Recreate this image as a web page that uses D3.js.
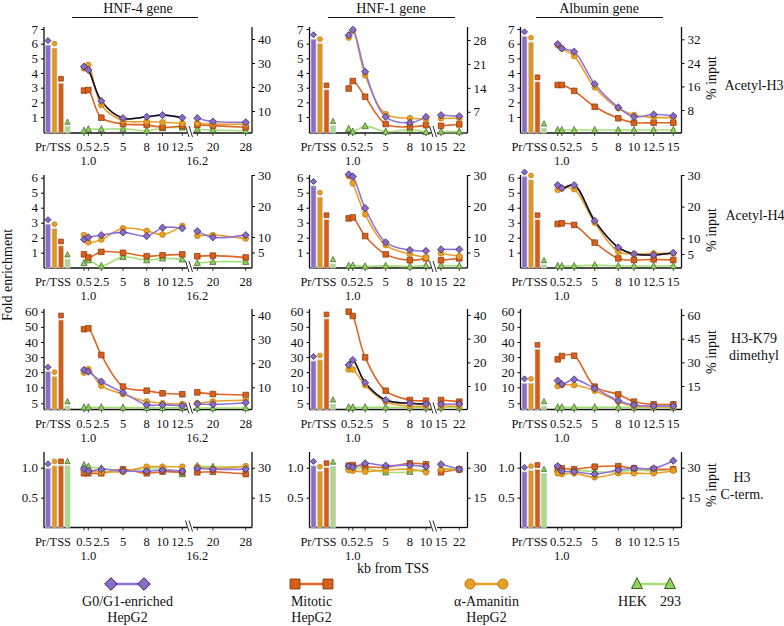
<!DOCTYPE html>
<html><head><meta charset="utf-8">
<script src="https://cdn.jsdelivr.net/npm/d3@7/dist/d3.min.js"></script>
<style>
body{margin:0;background:#fff;}
text{font-family:"Liberation Serif","Times New Roman",Times,serif;fill:#111;}
</style></head><body>
<svg id="chart" width="784" height="626" xmlns="http://www.w3.org/2000/svg"></svg>
<script>
// ---------- categories / labels ----------
const genes = ["HNF-4 gene", "HNF-1 gene", "Albumin gene"];
const modifications = [["Acetyl-H3"], ["Acetyl-H4"], ["H3-K79", "dimethyl"], ["H3", "C-term."]];
const legendLabels = [["G0/G1-enriched", "HepG2"], ["Mitotic", "HepG2"], ["α-Amanitin", "HepG2"], ["HEK", "293"]];
const kbHNF4 = [0.5, 1.0, 2.5, 5, 8, 10, 12.5, 16.2, 20, 28];
const kbHNF1 = [0.5, 1.0, 2.5, 5, 8, 10, 15, 22];
const kbAlb  = [0.5, 1.0, 2.5, 5, 8, 10, 12.5, 15];
const xTicksHNF4 = ["0.5", "2.5", "5", "8", "10", "12.5", "20", "28"], xTicks2HNF4 = ["1.0", "16.2"];
const xTicksHNF1 = ["0.5", "2.5", "5", "8", "10", "15", "22"], xTicks2HNF1 = ["1.0"];
const xTicksAlb  = ["0.5", "2.5", "5", "8", "10", "12.5", "15"], xTicks2Alb = ["1.0"];
const leftTicksH3 = [1, 2, 3, 4, 5, 6, 7];
const leftTicksH4 = [1, 2, 3, 4, 5, 6];
const leftTicksK79 = [5, 10, 20, 30, 40, 50, 60];
const leftTicksCt = [0.5, 1.0];
const rightTicksH3 = [[10, 20, 30, 40], [7, 14, 21, 28], [8, 16, 24, 32]];
const rightTicksH4 = [[5, 10, 20, 30], [5, 10, 20, 30], [5, 10, 20, 30]];
const rightTicksK79 = [[10, 20, 30, 40], [10, 20, 30, 40], [15, 30, 45, 60]];
const rightTicksCt = [[15, 30], [15, 30], [15, 30]];

// ---------- promoter bars (fold enrichment): G0/G1, α-Amanitin, Mitotic, HEK ----------
const barsH3_HNF4 = [5.9, 5.7, 3.3, 0.35];
const barsH3_HNF1 = [6.3, 6.0, 2.85, 0.4];
const barsH3_Alb  = [6.5, 6.1, 3.4, 0.23];
const barsH4_HNF4 = [2.9, 2.6, 1.45, 0.56];
const barsH4_HNF1 = [5.45, 4.7, 3.2, 0.25];
const barsH4_Alb  = [6.07, 5.85, 3.2, 0.18];
const barsK79_HNF4 = [20.3, 17.0, 54.5, 2.75];
const barsK79_HNF1 = [27.4, 28.1, 55.2, 4.2];
const barsK79_Alb  = [12.6, 12.6, 35.1, 2.75];
const barsCt_HNF4 = [0.99, 1.03, 1.03, 1.03];
const barsCt_HNF1 = [1.03, 0.94, 1.0, 1.02];
const barsCt_Alb  = [0.93, 0.95, 0.97, 0.9];

// ---------- profiles (% input) ----------
const h3_HNF4_g0  = [28.5, 27.1, 14.2, 7.0, 7.6, 8.3, 7.2, 7.0, 5.6, 5.3];
const h3_HNF4_mit = [18.5, 18.75, 7.2, 4.6, 4.2, 3.2, 3.75, 4.2, 3.9, 3.2];
const h3_HNF4_ama = [27.8, 29.2, 12.5, 6.0, 5.6, 5.3, 4.9, 4.9, 4.6, 4.5];
const h3_HNF4_hek = [1.8, 2.4, 2.4, 2.6, 1.8, 2.9, 3.1, 2.4, 2.1, 1.8];
const h3_HNF1_g0  = [29.4, 31.0, 18.7, 5.5, 3.8, 5.5, 6.0, 5.7];
const h3_HNF1_mit = [13.8, 16.0, 11.4, 3.4, 2.6, 3.1, 2.9, 3.3];
const h3_HNF1_ama = [28.7, 30.8, 17.7, 6.3, 5.1, 4.8, 5.1, 5.1];
const h3_HNF1_hek = [2.0, 1.2, 2.8, 1.2, 1.7, 1.1, 1.2, 1.2];
const h3_Alb_g0  = [30.4, 28.9, 27.8, 16.8, 8.9, 5.7, 6.5, 6.0];
const h3_Alb_mit = [16.5, 16.5, 14.5, 9.1, 5.2, 3.7, 3.7, 3.7];
const h3_Alb_ama = [30.0, 28.9, 26.3, 15.7, 8.6, 6.3, 5.5, 5.5];
const h3_Alb_hek = [1.2, 1.2, 1.2, 1.2, 1.2, 1.2, 1.2, 1.2];

const h4_HNF4_g0  = [9.2, 9.9, 10.6, 11.5, 10.3, 13.0, 12.8, 11.9, 9.9, 10.6];
const h4_HNF4_mit = [4.4, 3.4, 5.2, 4.9, 3.8, 4.1, 4.4, 3.8, 4.0, 3.4];
const h4_HNF4_ama = [10.6, 8.3, 9.2, 12.8, 12.0, 10.8, 13.6, 10.4, 10.6, 9.5];
const h4_HNF4_hek = [1.6, 2.5, 0.6, 3.6, 2.5, 3.1, 2.8, 1.6, 2.0, 2.0];
const h4_HNF1_g0  = [30.2, 29.5, 19.3, 8.3, 5.8, 5.5, 6.0, 6.0];
const h4_HNF1_mit = [16.0, 16.3, 10.3, 4.4, 2.5, 3.1, 2.5, 3.1];
const h4_HNF1_ama = [29.7, 27.3, 17.3, 7.4, 4.5, 3.4, 4.7, 3.8];
const h4_HNF1_hek = [0.7, 0.8, 0.5, 0.7, 0.5, 0.8, 0.8, 0.7];
const h4_Alb_g0  = [26.8, 25.8, 26.8, 15.5, 7.1, 5.0, 4.7, 5.4];
const h4_Alb_mit = [14.5, 14.7, 14.2, 8.6, 3.6, 3.1, 3.3, 3.1];
const h4_Alb_ama = [25.3, 25.8, 25.5, 14.9, 5.7, 5.0, 5.2, 5.2];
const h4_Alb_hek = [1.2, 1.2, 1.2, 1.5, 1.2, 1.2, 1.2, 1.2];

const k79_HNF4_g0  = [17.2, 16.5, 12.4, 7.8, 2.7, 2.7, 2.3, 3.1, 2.9, 3.6];
const k79_HNF4_mit = [34.1, 34.5, 23.4, 10.3, 8.6, 7.5, 7.1, 7.9, 7.2, 6.8];
const k79_HNF4_ama = [16.1, 17.5, 10.6, 7.2, 4.1, 3.4, 3.1, 3.4, 4.1, 4.7];
const k79_HNF4_hek = [1.7, 1.7, 1.7, 1.6, 1.5, 1.5, 1.5, 1.4, 1.4, 1.4];
const k79_HNF1_g0  = [18.9, 21.0, 11.4, 4.1, 2.7, 2.4, 2.3, 2.4];
const k79_HNF1_mit = [41.4, 39.6, 22.1, 8.0, 4.1, 3.8, 4.1, 3.4];
const k79_HNF1_ama = [17.0, 17.0, 10.4, 3.4, 1.5, 1.5, 1.5, 1.5];
const k79_HNF1_hek = [1.0, 1.0, 1.0, 1.0, 1.0, 1.0, 1.0, 1.0];
const k79_Alb_g0  = [18.4, 16.1, 19.2, 13.5, 5.7, 3.0, 2.3, 2.3];
const k79_Alb_mit = [31.9, 34.0, 34.2, 14.6, 9.7, 5.1, 3.4, 3.4];
const k79_Alb_ama = [15.0, 15.6, 15.6, 12.0, 5.1, 2.3, 1.9, 1.9];
const k79_Alb_hek = [1.5, 1.5, 1.5, 1.5, 1.5, 1.5, 1.5, 1.5];

const ct_HNF4_g0  = [29.3, 28.3, 29.2, 28.3, 28.3, 28.8, 28.3, 29.7, 29.2, 29.3];
const ct_HNF4_mit = [27.2, 27.2, 27.2, 29.2, 27.2, 28.0, 27.7, 27.7, 28.0, 26.8];
const ct_HNF4_ama = [28.5, 28.0, 28.0, 28.0, 30.5, 30.5, 30.5, 30.5, 29.7, 30.8];
const ct_HNF4_hek = [31.3, 30.5, 29.7, 28.5, 29.7, 29.7, 26.8, 30.8, 30.5, 30.5];
const ct_HNF1_g0  = [30.8, 30.2, 32.2, 31.0, 31.3, 30.5, 31.7, 29.2];
const ct_HNF1_mit = [31.0, 31.3, 30.5, 30.2, 32.2, 31.7, 27.7, 29.2];
const ct_HNF1_ama = [28.8, 28.5, 28.0, 28.8, 29.2, 27.7, 29.2, 28.8];
const ct_HNF1_hek = [30.5, 29.7, 29.7, 27.7, 28.0, 29.2, 29.7, 29.2];
const ct_Alb_g0  = [30.8, 28.3, 28.0, 26.8, 28.8, 29.7, 29.7, 33.5];
const ct_Alb_mit = [30.0, 29.7, 29.2, 30.5, 30.8, 29.7, 29.2, 29.2];
const ct_Alb_ama = [27.2, 26.8, 27.2, 25.2, 27.2, 27.2, 27.2, 28.5];
const ct_Alb_hek = [29.2, 28.0, 28.8, 28.0, 28.0, 28.8, 28.5, 29.2];

// ---------- tables built from the arrays ----------
const kbByCol = [kbHNF4, kbHNF1, kbAlb];
const xTicksByCol = [[xTicksHNF4, xTicks2HNF4], [xTicksHNF1, xTicks2HNF1], [xTicksAlb, xTicks2Alb]];
const leftTicksByRow = [leftTicksH3, leftTicksH4, leftTicksK79, leftTicksCt];
const rightTicksByRow = [rightTicksH3, rightTicksH4, rightTicksK79, rightTicksCt];
const barsTable = [
  [barsH3_HNF4, barsH3_HNF1, barsH3_Alb],
  [barsH4_HNF4, barsH4_HNF1, barsH4_Alb],
  [barsK79_HNF4, barsK79_HNF1, barsK79_Alb],
  [barsCt_HNF4, barsCt_HNF1, barsCt_Alb]
];
const lineTable = [
  [{g0:h3_HNF4_g0,mit:h3_HNF4_mit,ama:h3_HNF4_ama,hek:h3_HNF4_hek},{g0:h3_HNF1_g0,mit:h3_HNF1_mit,ama:h3_HNF1_ama,hek:h3_HNF1_hek},{g0:h3_Alb_g0,mit:h3_Alb_mit,ama:h3_Alb_ama,hek:h3_Alb_hek}],
  [{g0:h4_HNF4_g0,mit:h4_HNF4_mit,ama:h4_HNF4_ama,hek:h4_HNF4_hek},{g0:h4_HNF1_g0,mit:h4_HNF1_mit,ama:h4_HNF1_ama,hek:h4_HNF1_hek},{g0:h4_Alb_g0,mit:h4_Alb_mit,ama:h4_Alb_ama,hek:h4_Alb_hek}],
  [{g0:k79_HNF4_g0,mit:k79_HNF4_mit,ama:k79_HNF4_ama,hek:k79_HNF4_hek},{g0:k79_HNF1_g0,mit:k79_HNF1_mit,ama:k79_HNF1_ama,hek:k79_HNF1_hek},{g0:k79_Alb_g0,mit:k79_Alb_mit,ama:k79_Alb_ama,hek:k79_Alb_hek}],
  [{g0:ct_HNF4_g0,mit:ct_HNF4_mit,ama:ct_HNF4_ama,hek:ct_HNF4_hek},{g0:ct_HNF1_g0,mit:ct_HNF1_mit,ama:ct_HNF1_ama,hek:ct_HNF1_hek},{g0:ct_Alb_g0,mit:ct_Alb_mit,ama:ct_Alb_ama,hek:ct_Alb_hek}]
];

// ---------- layout & style ----------
const colLayout = [
  {axL: 44, axR: 252, xd: [0.5, 5, 12.5, 16.2, 28], xr: [84, 123, 182.3, 197.3, 245.7], brk: 190, brkIdx: 7, title: [72, 198], tx: 138},
  {axL: 309.5, axR: 467.5, xd: [0.5, 5, 10, 15, 22], xr: [348.7, 385.7, 426, 441, 459.3], brk: 434, brkIdx: 6, title: [328, 455], tx: 391},
  {axL: 520.5, axR: 681.5, xd: [0.5, 5, 15], xr: [557.7, 594.7, 673.3], brk: null, brkIdx: null, title: [536, 663], tx: 599}
];
const rowLayout = [
  {bottom: 133, top: 27, ld: [0, 7], lr: [131.7, 29], rd: [[0, 40], [0, 28], [0, 32]], rr: [[135, 39], [135.7, 40], [133.6, 39.3]], fmt: d3.format("d"),
   lab: {x: 754, y: [90]}, pct: 78},
  {bottom: 268, top: 175, ld: [0, 6], lr: [267.7, 177.7], rd: [[0, 30], [0, 30], [0, 30]], rr: [[268, 175], [268, 175], [269.8, 175]], fmt: d3.format("d"),
   lab: {x: 755, y: [220]}, pct: 230},
  {bottom: 409.5, top: 309, ld: [0, 5, 10, 60], lr: [409.5, 403.3, 387.3, 311.7], rd: [[0, 40], [0, 40], [0, 60]], rr: [[411.4, 315], [409.7, 315], [409.7, 315]], fmt: d3.format("d"),
   lab: {x: 754, y: [343, 360]}, pct: 352},
  {bottom: 527.5, top: 452, ld: [0, 1], lr: [527.7, 467.7], rd: [[0, 30], [0, 30], [0, 30]], rr: [[527.7, 467.7], [527.7, 467.7], [527.7, 467.7]], fmt: d3.format(".1f"),
   lab: {x: 742, y: [482, 499]}, pct: 485}
];
const blackOverlay = [{r: 0, c: 0, seg: 0}, {r: 1, c: 2, seg: 0}, {r: 2, c: 1, seg: 0}];
const style = {
  g0:  {fill: "#8a6cc8", stroke: "#2b1d4d", line: "#8f74dc", bar: "#8b6dc8"},
  mit: {fill: "#d8601a", stroke: "#86360c", line: "#de6522", bar: "#d45c16"},
  ama: {fill: "#e6a024", stroke: "#c27e14", line: "#e99f2c", bar: "#e0961e"},
  hek: {fill: "#94cf62", stroke: "#31601e", line: "#a6dd76", bar: "#a8db8c"}
};
const barOrder = ["g0", "ama", "mit", "hek"];
const drawOrder = ["hek", "mit", "ama", "g0"];
const tickFont = 12.5;

function markerPath(key, s) {
  if (key === "g0") { const r = 3.6 * s; return `M0,${-r}L${r},0L0,${r}L${-r},0Z`; }
  if (key === "mit") { const h = 2.8 * s; return `M${-h},${-h}H${h}V${h}H${-h}Z`; }
  if (key === "ama") { const r = 2.9 * s; return `M${r},0A${r},${r} 0 1,1 ${-r},0A${r},${r} 0 1,1 ${r},0Z`; }
  const a = 6.2 * s; return `M0,${-a * 0.58}L${a / 2},${a * 0.42}L${-a / 2},${a * 0.42}Z`;
}

const svg = d3.select("#chart");

// Column titles
colLayout.forEach((c, ci) => {
  svg.append("text").attr("x", c.tx).attr("y", 13).attr("text-anchor", "middle").attr("font-size", 14).text(genes[ci]);
  svg.append("line").attr("x1", c.title[0]).attr("x2", c.title[1]).attr("y1", 17.5).attr("y2", 17.5).attr("stroke", "#111").attr("stroke-width", 1);
});

rowLayout.forEach((R, ri) => {
  colLayout.forEach((C, ci) => {
    const g = svg.append("g");
    const x = d3.scaleLinear().domain(C.xd).range(C.xr);
    const yL = d3.scaleLinear().domain(R.ld).range(R.lr);
    const yR = d3.scaleLinear().domain(R.rd[ci]).range(R.rr[ci]);
    const kb = kbByCol[ci];

    // left axis
    const la = g.append("g").attr("transform", `translate(${C.axL},0)`)
      .call(d3.axisLeft(yL).tickValues(leftTicksByRow[ri]).tickFormat(R.fmt).tickSize(3).tickPadding(3).tickSizeOuter(0));
    la.select(".domain").remove();
    la.selectAll("text").attr("font-size", 13);
    g.append("line").attr("x1", C.axL).attr("x2", C.axL).attr("y1", R.top).attr("y2", R.bottom).attr("stroke", "#111").attr("stroke-width", 1.3);

    // right axis
    const ra = g.append("g").attr("transform", `translate(${C.axR},0)`)
      .call(d3.axisRight(yR).tickValues(rightTicksByRow[ri][ci]).tickSize(3).tickPadding(3).tickSizeOuter(0));
    ra.select(".domain").remove();
    ra.selectAll("text").attr("font-size", 13);
    g.append("line").attr("x1", C.axR).attr("x2", C.axR).attr("y1", R.top).attr("y2", R.bottom).attr("stroke", "#111").attr("stroke-width", 1.3);

    // x axis with break
    if (C.brk) {
      g.append("line").attr("x1", C.axL).attr("x2", C.brk - 3).attr("y1", R.bottom).attr("y2", R.bottom).attr("stroke", "#111").attr("stroke-width", 1.3);
      g.append("line").attr("x1", C.brk + 3).attr("x2", C.axR).attr("y1", R.bottom).attr("y2", R.bottom).attr("stroke", "#111").attr("stroke-width", 1.3);
      [-3, 0.5].forEach(o => g.append("line").attr("x1", C.brk + o - 1.5).attr("x2", C.brk + o + 2).attr("y1", R.bottom - 7).attr("y2", R.bottom + 4).attr("stroke", "#111").attr("stroke-width", 0.9));
    } else {
      g.append("line").attr("x1", C.axL).attr("x2", C.axR).attr("y1", R.bottom).attr("y2", R.bottom).attr("stroke", "#111").attr("stroke-width", 1.3);
    }
    // x ticks
    g.selectAll(".xt").data(kb).enter().append("line")
      .attr("x1", d => x(d)).attr("x2", d => x(d)).attr("y1", R.bottom).attr("y2", R.bottom + 3).attr("stroke", "#111").attr("stroke-width", 0.8);
    const [t1, t2] = xTicksByCol[ci];
    g.selectAll(".xl1").data(t1).enter().append("text").attr("x", d => x(+d)).attr("y", R.bottom + 18)
      .attr("text-anchor", "middle").attr("font-size", tickFont).text(d => d);
    g.selectAll(".xl2").data(t2).enter().append("text").attr("x", d => x(+d)).attr("y", R.bottom + 32)
      .attr("text-anchor", "middle").attr("font-size", tickFont).text(d => d);
    g.append("text").attr("x", C.axL + 9).attr("y", R.bottom + 18).attr("text-anchor", "middle").attr("font-size", tickFont).text("Pr/TSS");

    // bars
    const bars = barsTable[ri][ci];
    barOrder.forEach((k, i) => {
      const bx = C.axL + 1.5 + i * 6.5, v = bars[i], by = yL(v);
      g.append("rect").attr("x", bx).attr("y", by).attr("width", 5).attr("height", R.bottom - by)
        .attr("fill", style[k].bar).attr("stroke", "#c9c9c9").attr("stroke-width", 0.7);
      g.append("path").attr("d", markerPath(k, 0.85)).attr("transform", `translate(${bx + 2.5},${by - 4.5})`)
        .attr("fill", style[k].fill).attr("stroke", style[k].stroke).attr("stroke-width", 0.7);
    });

    // lines
    const segs = C.brkIdx ? [[0, C.brkIdx], [C.brkIdx, kb.length]] : [[0, kb.length]];
    const lineGen = d3.line().x(d => x(d[0])).y(d => yR(d[1])).curve(d3.curveCatmullRom.alpha(0.5));
    const series = lineTable[ri][ci];
    drawOrder.forEach(k => {
      const pts = kb.map((d, i) => [d, series[k][i]]);
      segs.forEach((s, si) => {
        g.append("path").attr("d", lineGen(pts.slice(s[0], s[1]))).attr("fill", "none")
          .attr("stroke", style[k].line).attr("stroke-width", 1.6);
        if (k === "g0" && blackOverlay.some(b => b.r === ri && b.c === ci && b.seg === si)) {
          g.append("path").attr("d", lineGen(pts.slice(s[0], s[1]))).attr("fill", "none")
            .attr("stroke", "#111").attr("stroke-width", 1.5);
        }
      });
    });
    drawOrder.forEach(k => {
      const pts = kb.map((d, i) => [d, series[k][i]]);
      g.selectAll(".m" + k).data(pts).enter().append("path").attr("d", markerPath(k, 1))
        .attr("transform", d => `translate(${x(d[0])},${yR(d[1])})`)
        .attr("fill", style[k].fill).attr("stroke", style[k].stroke).attr("stroke-width", 0.7);
    });
  });

  // row labels
  modifications[ri].forEach((t, i) => svg.append("text").attr("x", R.lab.x).attr("y", R.lab.y[i])
    .attr("text-anchor", "middle").attr("font-size", 14).text(t));
  svg.append("text").attr("transform", `translate(716,${R.pct}) rotate(-90)`).attr("text-anchor", "middle")
    .attr("font-size", 14).text("% input");
});

// Y title
svg.append("text").attr("transform", "translate(12,275) rotate(-90)").attr("text-anchor", "middle").attr("font-size", 14).text("Fold enrichment");
// X title
svg.append("text").attr("x", 393).attr("y", 573).attr("text-anchor", "middle").attr("font-size", 14).text("kb from TSS");

// Legend
const legendKeys = ["g0", "mit", "ama", "hek"];
const legendX = [127.5, 311.5, 486.5, 653.5];
legendKeys.forEach((k, i) => {
  const cx = legendX[i];
  const lg = svg.append("g");
  lg.append("line").attr("x1", cx - 14).attr("x2", cx + 14).attr("y1", 584).attr("y2", 584).attr("stroke", style[k].line).attr("stroke-width", 2.5);
  [-16.5, 16.5].forEach(o => lg.append("path").attr("d", markerPath(k, 1.75)).attr("transform", `translate(${cx + o},584)`)
    .attr("fill", style[k].fill).attr("stroke", style[k].stroke).attr("stroke-width", 1));
  if (k === "hek") {
    lg.append("text").attr("x", cx - 21).attr("y", 606).attr("text-anchor", "middle").attr("font-size", 14).text(legendLabels[i][0]);
    lg.append("text").attr("x", cx + 17).attr("y", 606).attr("text-anchor", "middle").attr("font-size", 14).text(legendLabels[i][1]);
  } else {
    legendLabels[i].forEach((t, j) => lg.append("text").attr("x", cx).attr("y", 606 + j * 16).attr("text-anchor", "middle").attr("font-size", 14).text(t));
  }
});
</script>
</body></html>
